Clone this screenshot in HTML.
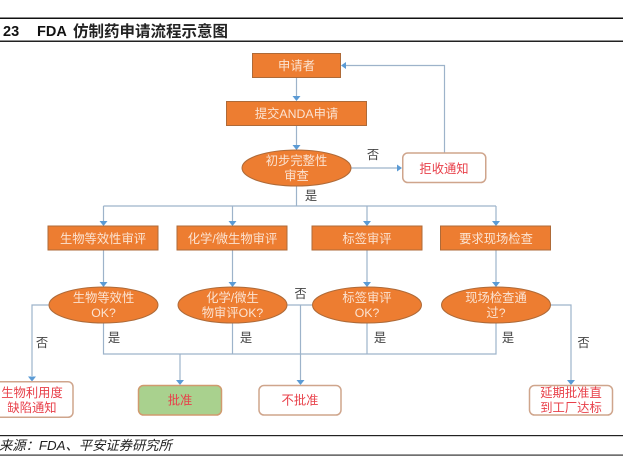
<!DOCTYPE html>
<html lang="zh">
<head>
<meta charset="utf-8">
<style>
html,body{margin:0;padding:0;background:#fff}
#p{position:relative;width:623px;height:469px;overflow:hidden;background:#fff}
svg{position:absolute;left:0;top:0}
text{font-family:"Liberation Sans","Noto Sans CJK SC",sans-serif;text-anchor:middle}
.w{fill:#fbe3d2;font-size:12.3px}
.r{fill:#e8404a;font-size:12.3px}
.k{fill:#444;font-size:12.3px}
.o{fill:#ed7d31;stroke:#ae6a38;stroke-width:1}
.n{fill:#fff;stroke:#cfa58c;stroke-width:1.5}
.l{fill:none;stroke:#9db3ca;stroke-width:1.2}
.a{fill:#5b9bd5}
</style>
</head>
<body>
<div id="p">
<svg width="623" height="469" viewBox="0 0 623 469" xmlns="http://www.w3.org/2000/svg">
<!-- header / footer rules -->
<rect x="0" y="17.500" width="623" height="1.500" fill="#111"/>
<rect x="0" y="40.500" width="623" height="1.500" fill="#222"/>
<rect x="0" y="435" width="623" height="1.200" fill="#222"/>
<rect x="0" y="454.500" width="623" height="1.200" fill="#333"/>
<text x="3" y="36" style="text-anchor:start;font-size:14.500px;font-weight:bold" fill="#111">23</text>
<text x="37" y="36" style="text-anchor:start;font-size:14.500px;font-weight:bold" fill="#111">FDA</text>
<text x="73" y="36.500" style="text-anchor:start;font-size:15.500px;font-weight:bold" fill="#222">仿制药申请流程示意图</text>
<text x="-1" y="450" style="text-anchor:start;font-size:13.300px;font-style:italic" fill="#222">来源：FDA、平安证券研究所</text>

<!-- connectors -->
<path class="l" d="M296.500 77V97M296.500 125V146M351 168H398M444.500 153V65.500H345"/>
<path class="l" d="M296.500 186V206M103.500 206H496M103.500 206V222M232.500 206V222M367 206V222M496 206V222"/>
<path class="l" d="M103.500 250V283M232.500 250V283M367 250V283M496 250V283"/>
<path class="l" d="M49 305H32V376M287 305H312M300.500 305V381M550 305H571V381"/>
<path class="l" d="M103.500 322V354H496V322M232.500 322V354M367 322V354M180 354V381"/>
<!-- arrowheads -->
<g class="a">
<path d="M292.500 96h8l-4 5zM292.500 145h8l-4 5zM397 164.500v7l5-3.500zM346 62v7l-5-3.500z"/>
<path d="M99.500 221h8l-4 5zM228.500 221h8l-4 5zM363 221h8l-4 5zM492 221h8l-4 5z"/>
<path d="M99.500 282h8l-4 5zM228.500 282h8l-4 5zM363 282h8l-4 5zM492 282h8l-4 5z"/>
<path d="M28 376.500h8l-4 5zM176 380h8l-4 5zM296.500 380h8l-4 5zM567 380h8l-4 5z"/>
</g>

<!-- process boxes -->
<rect class="o" x="252.500" y="53.500" width="88" height="24"/>
<rect class="o" x="226.500" y="101.500" width="140" height="24"/>
<rect class="o" x="48" y="226" width="110" height="24"/>
<rect class="o" x="177" y="226" width="110" height="24"/>
<rect class="o" x="312" y="226" width="110" height="24"/>
<rect class="o" x="440.500" y="226" width="110" height="24"/>
<!-- decisions -->
<ellipse class="o" cx="296.500" cy="168" rx="54.500" ry="18"/>
<ellipse class="o" cx="103.500" cy="305" rx="54.500" ry="18"/>
<ellipse class="o" cx="232.500" cy="305" rx="54.500" ry="18"/>
<ellipse class="o" cx="367" cy="305" rx="54.500" ry="18"/>
<ellipse class="o" cx="496" cy="305" rx="54.500" ry="18"/>
<!-- outcomes -->
<rect class="n" x="402.750" y="153" width="83" height="29.500" rx="5"/>
<rect class="n" x="-10" y="381.750" width="83" height="35.500" rx="5"/>
<rect x="138.500" y="385.500" width="83" height="29.500" rx="5" fill="#a9d18e" stroke="#d09a6e" stroke-width="1.500"/>
<rect class="n" x="259" y="385.500" width="82" height="29.500" rx="5"/>
<rect class="n" x="529.500" y="385.500" width="83" height="29.500" rx="5"/>

<!-- labels -->
<text class="w" x="296.500" y="70">申请者</text>
<text class="w" x="296.500" y="118">提交ANDA申请</text>
<text class="w" x="296.500" y="165">初步完整性</text>
<text class="w" x="296.500" y="180">审查</text>
<text class="w" x="103" y="243">生物等效性审评</text>
<text class="w" x="232.500" y="243">化学/微生物审评</text>
<text class="w" x="367" y="243">标签审评</text>
<text class="w" x="496" y="243">要求现场检查</text>
<text class="w" x="103.500" y="302">生物等效性</text>
<text class="w" x="103.500" y="317">OK?</text>
<text class="w" x="232.500" y="302">化学/微生</text>
<text class="w" x="232.500" y="317">物审评OK?</text>
<text class="w" x="367" y="302">标签审评</text>
<text class="w" x="367" y="317">OK?</text>
<text class="w" x="496" y="302">现场检查通</text>
<text class="w" x="496" y="317">过?</text>
<text class="r" x="444" y="173">拒收通知</text>
<text class="r" x="32" y="397">生物利用度</text>
<text class="r" x="32" y="412">缺陷通知</text>
<text class="r" x="180" y="404.500">批准</text>
<text class="r" x="300" y="404.500">不批准</text>
<text class="r" x="571" y="397">延期批准直</text>
<text class="r" x="571" y="412">到工厂达标</text>
<text class="k" x="373" y="159">否</text>
<text class="k" x="311" y="200">是</text>
<text class="k" x="42" y="347">否</text>
<text class="k" x="114" y="342">是</text>
<text class="k" x="246" y="342">是</text>
<text class="k" x="300.500" y="298">否</text>
<text class="k" x="380" y="342">是</text>
<text class="k" x="508" y="342">是</text>
<text class="k" x="583.500" y="347">否</text>
</svg>
</div>
</body>
</html>
